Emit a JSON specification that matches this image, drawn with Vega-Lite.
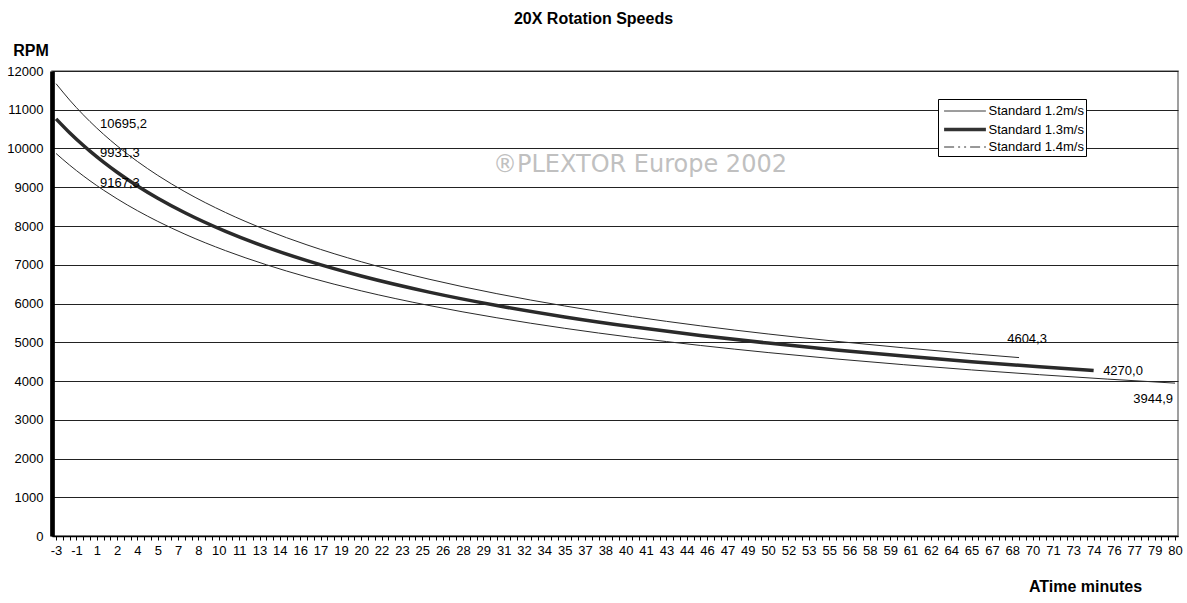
{
  "$schema": "https://vega.github.io/schema/vega-lite/v6.json",
  "autosize": "none",
  "width": 1126,
  "height": 465,
  "padding": {"left": 52, "top": 71, "right": 9, "bottom": 67},
  "background": "white",
  "title": {"text": "20X Rotation Speeds", "fontSize": 16, "fontWeight": "bold", "font": "Liberation Sans", "color": "#000", "anchor": "middle", "frame": "group", "dx": -21.5, "offset": 16},
  "datasets": {
    "speeds": [
      {"s": "Standard 1.2m/s", "t": -2.5, "rpm": 9871.1},
      {"s": "Standard 1.2m/s", "t": -1.5, "rpm": 9570.6},
      {"s": "Standard 1.2m/s", "t": -0.5, "rpm": 9296.0},
      {"s": "Standard 1.2m/s", "t": 0, "rpm": 9167.3},
      {"s": "Standard 1.2m/s", "t": 1, "rpm": 8925.1},
      {"s": "Standard 1.2m/s", "t": 2, "rpm": 8701.2},
      {"s": "Standard 1.2m/s", "t": 3.5, "rpm": 8394.8},
      {"s": "Standard 1.2m/s", "t": 5, "rpm": 8118.7},
      {"s": "Standard 1.2m/s", "t": 7, "rpm": 7789.5},
      {"s": "Standard 1.2m/s", "t": 10, "rpm": 7363.2},
      {"s": "Standard 1.2m/s", "t": 13, "rpm": 7000.1},
      {"s": "Standard 1.2m/s", "t": 16, "rpm": 6685.8},
      {"s": "Standard 1.2m/s", "t": 20, "rpm": 6325.9},
      {"s": "Standard 1.2m/s", "t": 25, "rpm": 5948.4},
      {"s": "Standard 1.2m/s", "t": 30, "rpm": 5631.3},
      {"s": "Standard 1.2m/s", "t": 35, "rpm": 5360.0},
      {"s": "Standard 1.2m/s", "t": 40, "rpm": 5124.5},
      {"s": "Standard 1.2m/s", "t": 45, "rpm": 4917.6},
      {"s": "Standard 1.2m/s", "t": 50, "rpm": 4733.8},
      {"s": "Standard 1.2m/s", "t": 55, "rpm": 4569.3},
      {"s": "Standard 1.2m/s", "t": 60, "rpm": 4420.7},
      {"s": "Standard 1.2m/s", "t": 65, "rpm": 4285.8},
      {"s": "Standard 1.2m/s", "t": 70, "rpm": 4162.5},
      {"s": "Standard 1.2m/s", "t": 75, "rpm": 4049.3},
      {"s": "Standard 1.2m/s", "t": 80, "rpm": 3944.9},
      {"s": "Standard 1.3m/s", "t": -2.5, "rpm": 10765.5},
      {"s": "Standard 1.3m/s", "t": -1.5, "rpm": 10407.3},
      {"s": "Standard 1.3m/s", "t": -0.5, "rpm": 10082.6},
      {"s": "Standard 1.3m/s", "t": 0, "rpm": 9931.3},
      {"s": "Standard 1.3m/s", "t": 1, "rpm": 9648.0},
      {"s": "Standard 1.3m/s", "t": 2, "rpm": 9387.7},
      {"s": "Standard 1.3m/s", "t": 3.5, "rpm": 9033.8},
      {"s": "Standard 1.3m/s", "t": 5, "rpm": 8717.2},
      {"s": "Standard 1.3m/s", "t": 7, "rpm": 8342.6},
      {"s": "Standard 1.3m/s", "t": 10, "rpm": 7861.5},
      {"s": "Standard 1.3m/s", "t": 13, "rpm": 7455.0},
      {"s": "Standard 1.3m/s", "t": 16, "rpm": 7105.8},
      {"s": "Standard 1.3m/s", "t": 20, "rpm": 6708.3},
      {"s": "Standard 1.3m/s", "t": 25, "rpm": 6294.1},
      {"s": "Standard 1.3m/s", "t": 30, "rpm": 5948.2},
      {"s": "Standard 1.3m/s", "t": 35, "rpm": 5653.8},
      {"s": "Standard 1.3m/s", "t": 40, "rpm": 5399.1},
      {"s": "Standard 1.3m/s", "t": 45, "rpm": 5176.0},
      {"s": "Standard 1.3m/s", "t": 50, "rpm": 4978.5},
      {"s": "Standard 1.3m/s", "t": 55, "rpm": 4802.0},
      {"s": "Standard 1.3m/s", "t": 60, "rpm": 4643.0},
      {"s": "Standard 1.3m/s", "t": 65, "rpm": 4498.8},
      {"s": "Standard 1.3m/s", "t": 70, "rpm": 4367.3},
      {"s": "Standard 1.3m/s", "t": 74, "rpm": 4270.0},
      {"s": "Standard 1.4m/s", "t": -2.5, "rpm": 11672.4},
      {"s": "Standard 1.4m/s", "t": -1.5, "rpm": 11250.4},
      {"s": "Standard 1.4m/s", "t": -0.5, "rpm": 10871.0},
      {"s": "Standard 1.4m/s", "t": 0, "rpm": 10695.2},
      {"s": "Standard 1.4m/s", "t": 1, "rpm": 10367.7},
      {"s": "Standard 1.4m/s", "t": 2, "rpm": 10068.6},
      {"s": "Standard 1.4m/s", "t": 3.5, "rpm": 9664.8},
      {"s": "Standard 1.4m/s", "t": 5, "rpm": 9306.0},
      {"s": "Standard 1.4m/s", "t": 7, "rpm": 8884.3},
      {"s": "Standard 1.4m/s", "t": 10, "rpm": 8347.2},
      {"s": "Standard 1.4m/s", "t": 13, "rpm": 7897.0},
      {"s": "Standard 1.4m/s", "t": 16, "rpm": 7512.6},
      {"s": "Standard 1.4m/s", "t": 20, "rpm": 7077.7},
      {"s": "Standard 1.4m/s", "t": 25, "rpm": 6627.4},
      {"s": "Standard 1.4m/s", "t": 30, "rpm": 6253.4},
      {"s": "Standard 1.4m/s", "t": 35, "rpm": 5936.3},
      {"s": "Standard 1.4m/s", "t": 40, "rpm": 5663.0},
      {"s": "Standard 1.4m/s", "t": 45, "rpm": 5424.3},
      {"s": "Standard 1.4m/s", "t": 50, "rpm": 5213.4},
      {"s": "Standard 1.4m/s", "t": 55, "rpm": 5025.3},
      {"s": "Standard 1.4m/s", "t": 60, "rpm": 4856.3},
      {"s": "Standard 1.4m/s", "t": 65, "rpm": 4703.2},
      {"s": "Standard 1.4m/s", "t": 68.5, "rpm": 4604.3}
    ],
    "marks": [{"note": "®PLEXTOR Europe 2002"}]
  },
  "layer": [
    {
      "data": {"name": "speeds"},
      "encoding": {
        "x": {"field": "t", "type": "quantitative",
          "scale": {"domain": [-2.8, 80.22], "nice": false, "zero": false},
          "axis": {
            "values": [-2.5,-2,-1.5,-1,-0.5,0,0.5,1,1.5,2,2.5,3,3.5,4,4.5,5,5.5,6,6.5,7,7.5,8,8.5,9,9.5,10,10.5,11,11.5,12,12.5,13,13.5,14,14.5,15,15.5,16,16.5,17,17.5,18,18.5,19,19.5,20,20.5,21,21.5,22,22.5,23,23.5,24,24.5,25,25.5,26,26.5,27,27.5,28,28.5,29,29.5,30,30.5,31,31.5,32,32.5,33,33.5,34,34.5,35,35.5,36,36.5,37,37.5,38,38.5,39,39.5,40,40.5,41,41.5,42,42.5,43,43.5,44,44.5,45,45.5,46,46.5,47,47.5,48,48.5,49,49.5,50,50.5,51,51.5,52,52.5,53,53.5,54,54.5,55,55.5,56,56.5,57,57.5,58,58.5,59,59.5,60,60.5,61,61.5,62,62.5,63,63.5,64,64.5,65,65.5,66,66.5,67,67.5,68,68.5,69,69.5,70,70.5,71,71.5,72,72.5,73,73.5,74,74.5,75,75.5,76,76.5,77,77.5,78,78.5,79,79.5,80],
            "labelExpr": "(datum.value + 2.5) % 1.5 == 0 ? (datum.value < 0 ? '-' + round(-datum.value) : '' + round(datum.value)) : ''",
            "labelOverlap": false, "labelFlush": false, "grid": false,
            "tickSize": 4, "tickColor": "#000", "tickWidth": 1,
            "domainColor": "#000", "domainWidth": 1.5,
            "labelFont": "Liberation Sans", "labelFontSize": 13, "labelColor": "#000", "labelPadding": 4,
            "title": "ATime minutes", "titleFont": "Liberation Sans", "titleFontSize": 16, "titleFontWeight": "bold", "titleColor": "#000",
            "titleX": 1033, "titleY": 50, "titleAlign": "center", "titleBaseline": "middle"
          }},
        "y": {"field": "rpm", "type": "quantitative",
          "scale": {"domain": [0, 12000], "nice": false},
          "axis": {
            "values": [0,1000,2000,3000,4000,5000,6000,7000,8000,9000,10000,11000,12000],
            "format": "d",
            "grid": true, "gridColor": "#222", "gridWidth": 1,
            "ticks": false, "tickSize": 0,
            "domainColor": "#000", "domainWidth": 4.7,
            "labelFont": "Liberation Sans", "labelFontSize": 13, "labelColor": "#000", "labelPadding": 9,
            "title": "RPM", "titleFont": "Liberation Sans", "titleFontSize": 16, "titleFontWeight": "bold", "titleColor": "#000",
            "titleAngle": 0, "titleX": -39.3, "titleY": -20.3, "titleAlign": "left", "titleBaseline": "middle"
          }}
      },
      "layer": [
        {
          "mark": {"type": "line", "interpolate": "monotone", "strokeCap": "butt", "color": "#2a2a2a"},
          "encoding": {
            "strokeWidth": {"field": "s", "type": "nominal",
              "scale": {"type": "ordinal", "domain": ["Standard 1.2m/s", "Standard 1.3m/s", "Standard 1.4m/s"], "range": [1, 3.5, 1]},
              "legend": {"title": null, "orient": "none", "legendX": 886, "legendY": 28,
                "symbolType": "M-2.2,0H2.2", "symbolSize": 361, "symbolOffset": 13.5, "labelOffset": 12,
                "symbolStrokeColor": "#333",
                "labelFont": "Liberation Sans", "labelFontSize": 13, "labelColor": "#000",
                "padding": 2, "rowPadding": 0, "strokeColor": "#000", "fillColor": "#fff", "cornerRadius": 0,
                "encode": {"symbols": {"update": {
                  "stroke": {"value": "#333"},
                  "strokeOpacity": {"value": 1},
                  "strokeDash": {"signal": "datum.value == 'Standard 1.4m/s' ? [10, 4, 2, 4, 2, 4] : [1, 0]"},
                  "strokeWidth": {"signal": "datum.value == 'Standard 1.3m/s' ? 3.5 : 1.5"}
                }}}}}
          }
        },
        {
          "transform": [{"filter": "datum.t == 0"}],
          "mark": {"type": "text", "font": "Liberation Sans", "fontSize": 13, "color": "#000", "align": "left", "baseline": "middle", "dx": 10, "dy": 2},
          "encoding": {"text": {"field": "rpm", "type": "quantitative", "format": ".1f"}}
        },
        {
          "transform": [{"filter": "datum.s == 'Standard 1.4m/s' && datum.t == 68.5"}],
          "mark": {"type": "text", "font": "Liberation Sans", "fontSize": 13, "color": "#000", "align": "center", "baseline": "middle", "dx": 8, "dy": -19},
          "encoding": {"text": {"field": "rpm", "type": "quantitative", "format": ".1f"}}
        },
        {
          "transform": [{"filter": "datum.s == 'Standard 1.3m/s' && datum.t == 74"}],
          "mark": {"type": "text", "font": "Liberation Sans", "fontSize": 13, "color": "#000", "align": "left", "baseline": "middle", "dx": 9.5, "dy": 0.5},
          "encoding": {"text": {"field": "rpm", "type": "quantitative", "format": ".1f"}}
        },
        {
          "transform": [{"filter": "datum.s == 'Standard 1.2m/s' && datum.t == 80"}],
          "mark": {"type": "text", "font": "Liberation Sans", "fontSize": 13, "color": "#000", "align": "right", "baseline": "middle", "dx": -2, "dy": 16},
          "encoding": {"text": {"field": "rpm", "type": "quantitative", "format": ".1f"}}
        }
      ]
    },
    {
      "data": {"name": "marks"},
      "mark": {"type": "text", "font": "DejaVu Sans", "fontSize": 24, "color": "#c0c0c0", "align": "center", "baseline": "middle",
        "x": {"expr": "scale('x', 40.55)"}, "y": {"expr": "scale('y', 9579)"}},
      "encoding": {
        "text": {"field": "note", "type": "nominal"}
      }
    }
  ],
  "config": {
    "view": {"stroke": "#808080", "strokeWidth": 1.5},
    "font": "Liberation Sans",
    "locale": {"number": {"decimal": ",", "thousands": "", "grouping": [3], "currency": ["", ""]}}
  }
}
